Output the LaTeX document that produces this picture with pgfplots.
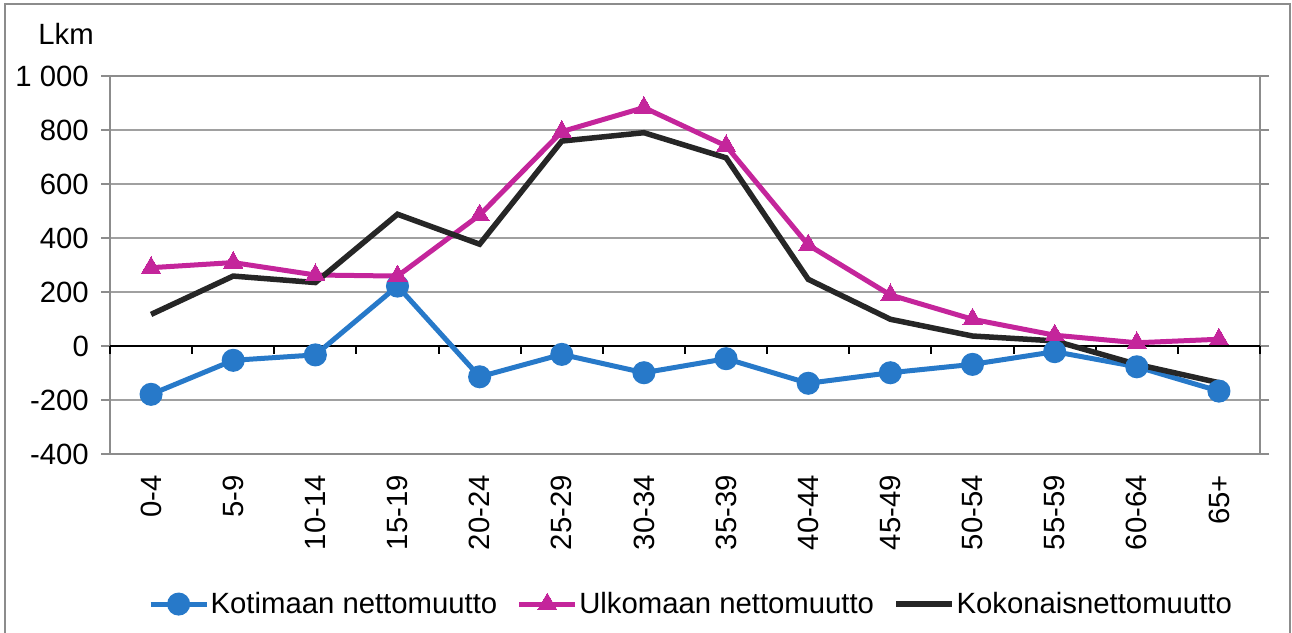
\documentclass[border=0pt]{standalone}
\usepackage{pgfplots}
\pgfplotsset{compat=1.18}
\usepackage{fontspec}
\setmainfont{Liberation Sans}
\definecolor{cblue}{HTML}{2779C9}
\definecolor{cmag}{HTML}{C4259B}
\definecolor{cblk}{HTML}{262626}
\definecolor{gridc}{HTML}{A0A0A0}
\definecolor{framec}{HTML}{8C8C8C}
\begin{document}
\begin{tikzpicture}[font=\fontsize{29.3}{34}\selectfont]
\useasboundingbox (0pt,0pt) rectangle (1292pt,632pt);
\draw[framec, line width=2pt] (5pt,-10pt) rectangle (1290pt,628pt);
\node at (66pt,598pt) {Lkm};
\begin{axis}[
  at={(110pt,178pt)}, anchor=south west,
  scale only axis, width=1150pt, height=378pt,
  xmin=-0.5, xmax=13.5, ymin=-400, ymax=1000,
  xtick={0,...,13},
  xticklabels={0-4,5-9,10-14,15-19,20-24,25-29,30-34,35-39,40-44,45-49,50-54,55-59,60-64,65+},
  ytick={-400,-200,0,200,400,600,800,1000},
  yticklabels={-400,-200,0,200,400,600,800,1 000},
  axis line style={framec, line width=2pt},
  ymajorgrids, grid style={gridc, line width=2pt},
  tick align=outside, major tick length=9pt,
  x tick style={draw=none},
  y tick style={framec, line width=2pt},
  tick label style={font=\fontsize{29.3}{34}\selectfont},
  xticklabel style={rotate=90, anchor=east, inner sep=0pt, xshift=-12pt},
  yticklabel style={anchor=east, inner sep=0pt, xshift=-12pt},
  clip=false,
  legend style={at={(0.505,-0.397)}, anchor=center, draw=none, fill=none,
    legend columns=3, font=\fontsize{29.3}{34}\selectfont,
    /tikz/every even column/.append style={column sep=18pt},
    nodes={inner sep=1.5pt}},
  legend cell align=left,
  legend image code/.code={\draw[mark repeat=2, mark phase=2] plot coordinates {(0pt,0pt) (28pt,0pt) (56pt,0pt)};},
]
\draw[black, line width=2pt] (axis cs:-0.5,0) -- (axis cs:13.5,0);
\pgfplotsinvokeforeach{-0.5,0.5,1.5,2.5,3.5,4.5,5.5,6.5,7.5,8.5,9.5,10.5,11.5,12.5,13.5}{
  \draw[black, line width=2pt] (axis cs:#1,0) -- ++(0pt,-8pt);
}
\addplot[cblue, line width=5pt, mark=*, mark size=9pt, mark options={solid}] coordinates {
(0,-179) (1,-53) (2,-33) (3,222) (4,-114) (5,-31) (6,-99) (7,-47) (8,-138) (9,-99) (10,-68) (11,-21) (12,-77) (13,-167)};
\addlegendentry{Kotimaan nettomuutto}
\addplot[cmag, line width=5pt, mark=triangle*, mark size=11pt, mark options={solid, line width=0pt}] coordinates {
(0,290) (1,309) (2,263) (3,259) (4,485) (5,794) (6,883) (7,741) (8,374) (9,189) (10,99) (11,40) (12,12) (13,25)};
\addlegendentry{Ulkomaan nettomuutto}
\addplot[cblk, line width=5.5pt, mark=none] coordinates {
(0,117) (1,259) (2,235) (3,488) (4,377) (5,759) (6,790) (7,697) (8,247) (9,99) (10,37) (11,19) (12,-68) (13,-136)};
\addlegendentry{Kokonaisnettomuutto}
\end{axis}
\end{tikzpicture}
\end{document}
